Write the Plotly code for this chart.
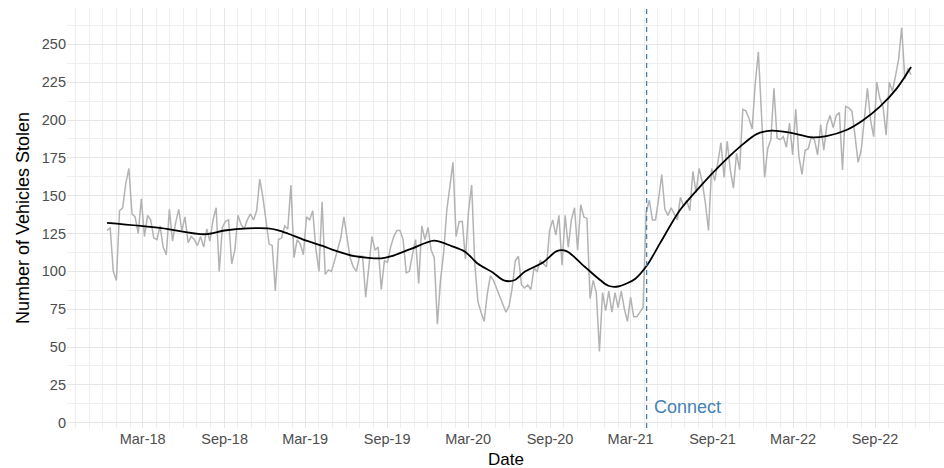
import pandas as pd
import plotly.graph_objects as go

# Weekly counts of stolen vehicles, one value per week starting on week_start
week_start = "2017-12-11"
weekly_stolen = [
    127, 129, 100, 94, 140, 142, 158, 168, 138, 136, 125, 148, 123, 137, 134, 122, 121,
    130, 116, 111, 141, 120, 132, 141, 127, 136, 119, 123, 121, 117, 123, 116, 128, 120,
    134, 142, 100, 129, 133, 134, 105, 114, 137, 131, 128, 134, 138, 134, 140, 161, 149,
    133, 118, 117, 87, 121, 122, 130, 128, 157, 109, 121, 118, 111, 136, 134, 140, 115, 100,
    146, 98, 101, 100, 107, 114, 122, 136, 122, 109, 103, 100, 110, 110, 83, 103, 123,
    114, 116, 88, 107, 106, 116, 123, 127, 127, 121, 99, 100, 111, 121, 92, 130, 121, 129,
    114, 109, 65, 94, 112, 140, 156, 172, 123, 133, 133, 108, 140, 157, 105, 80, 73, 67,
    85, 97, 94, 89, 83, 78, 73, 77, 89, 107, 110, 91, 89, 91, 88, 102, 100, 107,
    105, 103, 127, 134, 124, 137, 104, 137, 116, 134, 142, 114, 144, 136, 135, 82, 94,
    86, 47, 86, 74, 87, 73, 86, 76, 87, 75, 67, 83, 70, 70, 73, 76,
    139, 147, 134, 134, 148, 164, 141, 137, 142, 138, 134, 149, 143, 147, 140, 166,
    152, 168, 159, 145, 127, 168, 160, 172, 185, 162, 186, 167, 155, 178, 167, 207,
    206, 201, 194, 224, 245, 204, 162, 181, 187, 221, 188, 187, 189, 182, 198, 177,
    207, 176, 164, 180, 181, 189, 187, 177, 197, 180, 197, 203, 195, 203, 205,
    167, 209, 208, 206, 190, 172, 180, 200, 221, 200, 189, 225, 214, 209, 190, 225,
    219, 229, 240, 261, 227, 234, 230,
]

# Smoothed trend through the weekly counts
trend_dates = [
    "2017-12-11", "2018-04-12", "2018-07-18", "2018-09-01", "2018-10-23", "2018-12-07",
    "2018-12-29", "2019-01-21", "2019-02-28", "2019-04-12", "2019-05-06", "2019-06-20",
    "2019-08-19", "2019-09-11", "2019-10-26", "2019-12-15", "2020-01-24", "2020-02-23",
    "2020-03-23", "2020-04-23", "2020-05-22", "2020-06-14", "2020-07-06", "2020-08-17",
    "2020-09-16", "2020-10-08", "2020-11-18", "2021-01-10", "2021-02-01", "2021-03-11",
    "2021-04-07", "2021-05-06", "2021-06-20", "2021-08-04", "2021-09-18", "2021-11-02",
    "2021-12-09", "2022-01-12", "2022-02-22", "2022-04-12", "2022-05-15", "2022-06-29",
    "2022-08-06", "2022-09-12", "2022-10-20", "2022-11-21",
]
trend_values = [
    132, 128.6, 124.5, 127, 128.4, 128.4,
    127.3, 125, 120.6, 116.5, 113.8, 110,
    108.6, 110, 115, 120.3, 116.7, 113,
    105, 99.7, 93.8, 94.3, 99.7, 106,
    113.4, 113.4, 103, 90.5, 90, 95,
    104, 118.5, 140.5, 156, 170, 182.4,
    190.7, 193, 191.6, 188.5, 189.4, 193.4,
    200, 208.8, 220.9, 235,
]

connect_date = "2021-04-06"
connect_label = "Connect"

week_dates = pd.date_range(week_start, periods=len(weekly_stolen), freq="7D")

fig = go.Figure()
fig.add_trace(go.Scatter(
    x=week_dates, y=weekly_stolen, mode="lines",
    line=dict(color="#b3b3b3", width=1.5), hoverinfo="x+y", showlegend=False,
))
fig.add_trace(go.Scatter(
    x=pd.to_datetime(trend_dates), y=trend_values, mode="lines",
    line=dict(color="#000000", width=1.8, shape="spline", smoothing=0.8),
    showlegend=False,
))

fig.add_shape(
    type="line", xref="x", yref="paper",
    x0=connect_date, x1=connect_date, y0=0, y1=1,
    line=dict(color="#4682b4", width=1.3, dash="5px,4px"),
)
fig.add_annotation(
    x=connect_date, y=10.4, xref="x", yref="y", text=connect_label,
    showarrow=False, xanchor="left", yanchor="middle", xshift=5,
    font=dict(family="Liberation Sans, Arial, sans-serif", size=18, color="#4682b4"),
)

grid_major = "#e6e6e6"
grid_minor = "#eeeeee"
tick_font = dict(family="Liberation Sans, Arial, sans-serif", size=14.5, color="#4d4d4d")
title_font = dict(family="Liberation Sans, Arial, sans-serif", size=18, color="#000000")

# x-axis title placed just below the tick labels
fig.add_annotation(
    x=0.5, y=-0.074, xref="paper", yref="paper", text="Date",
    showarrow=False, xanchor="center", yanchor="middle",
    font=dict(family="Liberation Sans, Arial, sans-serif", size=17, color="#000000"),
)

fig.update_layout(
    width=944, height=468,
    margin=dict(l=67, r=0, t=8, b=40),
    plot_bgcolor="white", paper_bgcolor="white",
    font=dict(family="Liberation Sans, Arial, sans-serif"),
    xaxis=dict(
        type="date", range=["2017-09-12", "2023-02-03"],
        tick0="2018-03-01", dtick="M6", tickformat="%b-%y",
        showgrid=True, gridcolor=grid_major, gridwidth=1.1,
        minor=dict(tick0="2018-03-01", dtick="M1", showgrid=True,
                   gridcolor=grid_minor, gridwidth=0.6),
        zeroline=False, showline=False, ticks="",
        tickfont=tick_font, automargin=False,
    ),
    yaxis=dict(
        range=[-3.5, 274], tick0=0, dtick=25,
        showgrid=True, gridcolor=grid_major, gridwidth=1.1,
        minor=dict(tick0=0, dtick=12.5, showgrid=True,
                   gridcolor=grid_minor, gridwidth=0.6),
        zeroline=False, showline=False, ticks="",
        tickfont=tick_font, automargin=False,
        title=dict(text="Number of Vehicles Stolen", font=title_font, standoff=7),
    ),
)

fig.write_html("out.html")
